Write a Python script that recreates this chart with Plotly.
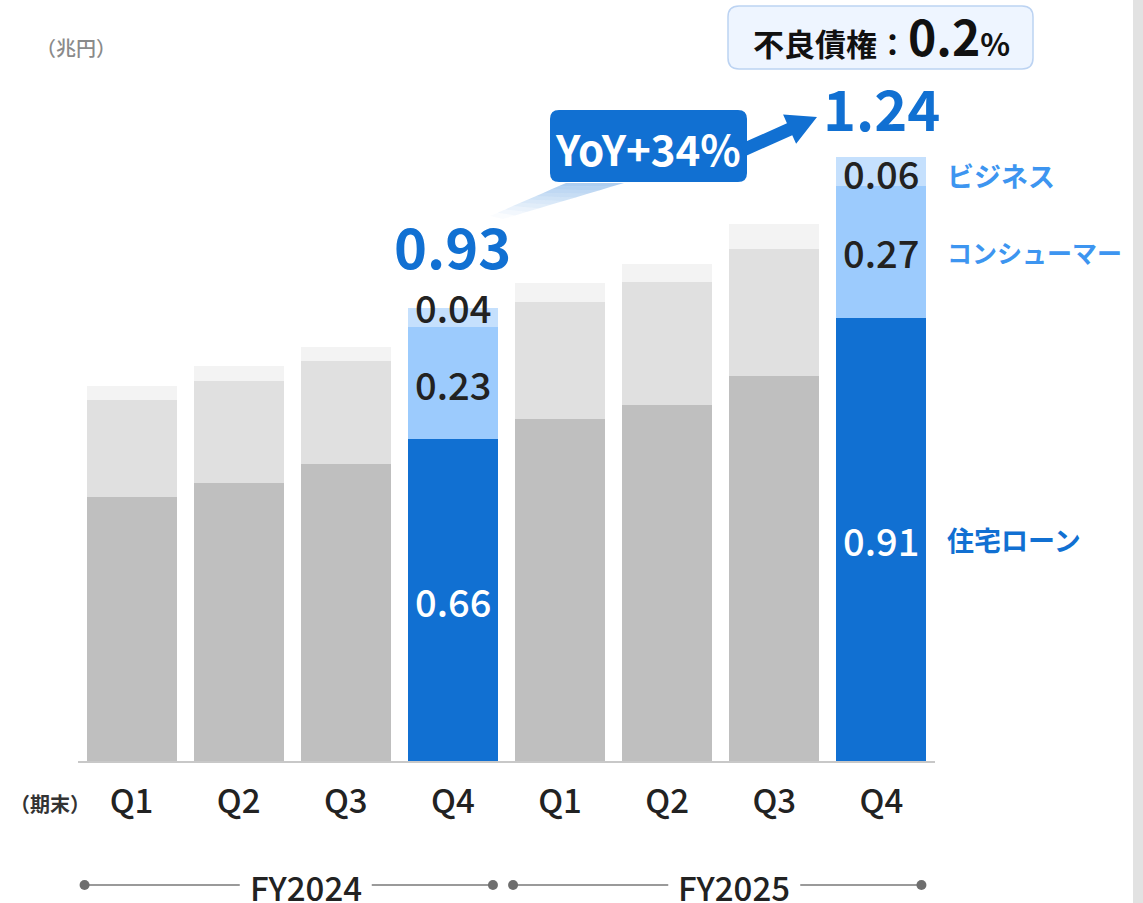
import math
import plotly.graph_objects as go

# ---------------- data ----------------
quarters = ["Q1", "Q2", "Q3", "Q4", "Q1", "Q2", "Q3", "Q4"]
fiscal_years = ["FY2024", "FY2025"]
fy_of_bar = ["FY2024"] * 4 + ["FY2025"] * 4
housing = [0.542, 0.570, 0.609, 0.66, 0.702, 0.731, 0.791, 0.91]
consumer = [0.199, 0.210, 0.211, 0.23, 0.239, 0.251, 0.260, 0.27]
business = [0.029, 0.030, 0.029, 0.04, 0.040, 0.038, 0.050, 0.06]
highlight = [False, False, False, True, False, False, False, True]
segment_names = ["住宅ローン", "コンシューマー", "ビジネス"]
unit_label = "（兆円）"
period_label = "（期末）"
yoy_text = "YoY+34%"
npl_title = "不良債権："
npl_value = "0.2"

# ---------------- layout geometry ----------------
FW, FH = 1143, 903
L, R, T, B = 78, 935, 54, 761
PW, PH = R - L, B - T
PX_PER_UNIT = 487.3
YMAX = PH / PX_PER_UNIT
N = len(quarters)

FONT = "Noto Sans CJK JP"
DARK = "#222222"
BLUE = "#1170d2"
LBLUE = "#9ccbfd"
LLBLUE = "#c5e0fd"
TXT_LBLUE = "#3d95f0"
GRAYS = ["#bfbfbf", "#e0e0e0", "#f3f3f3"]


def px(x):
    return (x - L) / PW


def py(y):
    return (B - y) / PH


def idx_px(i):
    return L + (i + 0.5) * PW / N


def rrect(x0, y0, x1, y1, r):
    pts = [
        f"M{px(x0 + r)},{py(y0)}", f"L{px(x1 - r)},{py(y0)}",
        f"Q{px(x1)},{py(y0)} {px(x1)},{py(y0 + r)}",
        f"L{px(x1)},{py(y1 - r)}",
        f"Q{px(x1)},{py(y1)} {px(x1 - r)},{py(y1)}",
        f"L{px(x0 + r)},{py(y1)}",
        f"Q{px(x0)},{py(y1)} {px(x0)},{py(y1 - r)}",
        f"L{px(x0)},{py(y0 + r)}",
        f"Q{px(x0)},{py(y0)} {px(x0 + r)},{py(y0)}", "Z",
    ]
    return " ".join(pts)


def poly(points):
    return "M" + " L".join(f"{px(x)},{py(y)}" for x, y in points) + " Z"


def paper_text(x, y, text, font):
    return dict(x=px(x), y=py(y), xref="paper", yref="paper", text=text, showarrow=False,
                xanchor="center", yanchor="middle", font=font)


fig = go.Figure()
series = [housing, consumer, business]
blues = [BLUE, LBLUE, LLBLUE]
for k, vals in enumerate(series):
    colors = [blues[k] if h else GRAYS[k] for h in highlight]
    fig.add_trace(go.Bar(
        x=list(range(N)), y=vals, marker=dict(color=colors, line=dict(width=0)),
        width=0.84, name=segment_names[k], showlegend=False, hoverinfo="skip",
    ))

annotations = []
shapes = []

# value labels in highlighted bars
top_shift = {3: 11, 7: -1}
for i in range(N):
    if not highlight[i]:
        continue
    base = 0
    for k, vals in enumerate(series):
        mid = base + vals[i] / 2
        annotations.append(dict(
            x=i, y=mid, xref="x", yref="y", text=f"{vals[i]:.2f}", showarrow=False,
            font=dict(family=FONT, size=38, color="white" if k == 0 else DARK, weight=500),
            yshift=(top_shift.get(i, 0) if k == 2 else 0),
        ))
        base += vals[i]
    total = housing[i] + consumer[i] + business[i]
    annotations.append(dict(
        x=i, y=total, xref="x", yref="y", text=f"{total:.2f}", showarrow=False,
        yanchor="bottom", font=dict(family=FONT, size=56, color=BLUE, weight="bold"),
        yshift=21 if i == 3 else 8,
    ))

# segment labels on the right of last bar
last = N - 1
base = 0
label_colors = [BLUE, TXT_LBLUE, TXT_LBLUE]
label_sizes = [27, 25, 27]
label_shift = [0, 0, -4]
for k, vals in enumerate(series):
    mid = base + vals[last] / 2
    annotations.append(dict(
        x=last, y=mid, xref="x", yref="y", text=segment_names[k], showarrow=False,
        xanchor="left", xshift=64, yshift=label_shift[k],
        font=dict(family=FONT, size=label_sizes[k], color=label_colors[k], weight="bold"),
    ))
    base += vals[last]

# unit / period labels
annotations.append(paper_text(76, 48, unit_label, dict(family=FONT, size=20, color="#8a8a8a", weight=500)))
annotations.append(paper_text(50, 803, period_label, dict(family=FONT, size=20, color="#333333", weight="bold")))

# fiscal-year group markers
for g, fy in enumerate(fiscal_years):
    members = [i for i in range(N) if fy_of_bar[i] == fy]
    x0 = idx_px(members[0]) - 47
    x1 = idx_px(members[-1]) + 40
    xc = (x0 + x1) / 2 + 17
    yl = 885
    shapes.append(dict(type="line", xref="paper", yref="paper", x0=px(x0), x1=px(xc - 66),
                       y0=py(yl), y1=py(yl), line=dict(color="#9a9a9a", width=2)))
    shapes.append(dict(type="line", xref="paper", yref="paper", x0=px(xc + 66), x1=px(x1),
                       y0=py(yl), y1=py(yl), line=dict(color="#9a9a9a", width=2)))
    for xd in (x0, x1):
        shapes.append(dict(type="circle", xref="paper", yref="paper",
                           x0=px(xd - 5), x1=px(xd + 5), y0=py(yl + 5), y1=py(yl - 5),
                           fillcolor="#6e6e6e", line=dict(width=0)))
    annotations.append(paper_text(xc, yl + 2, fy, dict(family=FONT, size=33, color=DARK, weight=500)))


# gradient beam from YoY box to the 0.93 label
def lerp(a, b, t):
    return (a[0] + (b[0] - a[0]) * t, a[1] + (b[1] - a[1]) * t)


beam = [(566, 183), (624, 183), (503, 219), (490, 216)]
nseg = 10
for s in range(nseg):
    t0, t1 = s / nseg, (s + 1) / nseg
    p = [lerp(beam[0], beam[3], t0), lerp(beam[1], beam[2], t0),
         lerp(beam[1], beam[2], t1), lerp(beam[0], beam[3], t1)]
    shapes.append(dict(type="path", xref="paper", yref="paper", path=poly(p),
                       fillcolor=BLUE, opacity=0.36 * (1 - (s + 0.5) / nseg), line=dict(width=0)))

# YoY box
shapes.append(dict(type="path", xref="paper", yref="paper", path=rrect(550, 110, 747, 182, 9),
                   fillcolor=BLUE, line=dict(width=0)))
annotations.append(paper_text(648, 147, yoy_text, dict(family=FONT, size=42, color="white", weight="bold")))

# arrow
sx, sy = 743, 150
tx, ty = 817, 117
dx, dy = tx - sx, ty - sy
ln = math.hypot(dx, dy)
ux, uy = dx / ln, dy / ln
nx, ny = -uy, ux
hw, hh, hl = 6.5, 16, 30
bx, by = tx - hl * ux, ty - hl * uy
arrow_pts = [
    (sx + hw * nx, sy + hw * ny), (bx + hw * nx, by + hw * ny), (bx + hh * nx, by + hh * ny),
    (tx, ty), (bx - hh * nx, by - hh * ny), (bx - hw * nx, by - hw * ny), (sx - hw * nx, sy - hw * ny),
]
shapes.append(dict(type="path", xref="paper", yref="paper", path=poly(arrow_pts),
                   fillcolor=BLUE, line=dict(width=0)))

# NPL box
shapes.append(dict(type="path", xref="paper", yref="paper", path=rrect(728, 6, 1033, 69, 11),
                   fillcolor="#eef5ff", line=dict(color="#bcd3f2", width=1.5)))
annotations.append(paper_text(
    881, 35,
    (f"<span style='font-size:31px'>{npl_title}</span>"
     f"<span style='font-size:48px'>{npl_value}</span>"
     f"<span style='font-size:31px'>%</span>"),
    dict(family=FONT, size=31, color="#111111", weight="bold"),
))

# right gray strip
shapes.append(dict(type="rect", xref="paper", yref="paper", x0=px(1133), x1=px(1150),
                   y0=py(-10), y1=py(915), fillcolor="#e2e2e2", line=dict(width=0), layer="below"))

fig.update_layout(
    width=FW, height=FH,
    margin=dict(l=L, r=FW - R, t=T, b=FH - B, pad=0),
    barmode="stack", bargap=0.16,
    paper_bgcolor="white", plot_bgcolor="white",
    showlegend=False,
    xaxis=dict(range=[-0.5, N - 0.5], tickmode="array", tickvals=list(range(N)), ticktext=quarters,
               showgrid=False, zeroline=False, showline=True, linecolor="#c8c8c8", linewidth=1.5,
               ticks="", ticklabelstandoff=11,
               tickfont=dict(family=FONT, size=33, color=DARK, weight=500), fixedrange=True),
    yaxis=dict(range=[0, YMAX], showgrid=False, zeroline=False, showticklabels=False,
               showline=False, fixedrange=True),
    annotations=annotations,
    shapes=shapes,
)

fig.write_html("out.html", config={"displayModeBar": False},
               post_script="document.body.style.margin='0';document.body.style.overflow='hidden';")
